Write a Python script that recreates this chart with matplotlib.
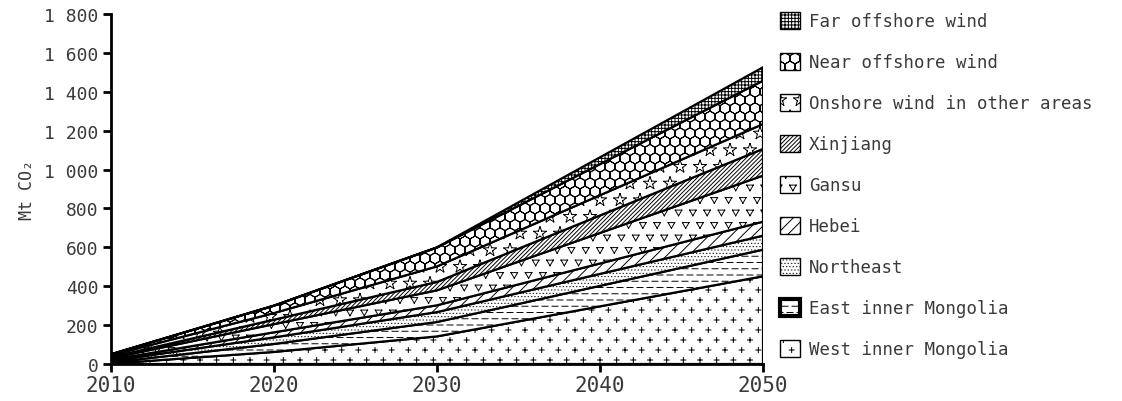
import warnings
warnings.filterwarnings('ignore')
import numpy as np
import matplotlib
matplotlib.use('Agg')
import matplotlib.pyplot as plt
from matplotlib import hatch as mhatch
from matplotlib.path import Path
from matplotlib.patches import Patch

# ---------------- data ----------------
years = [2010, 2020, 2030, 2050]
west_inner_mongolia = [2, 62, 142, 451]
east_inner_mongolia = [6, 41, 74, 137]
northeast = [8, 34, 51, 72]
hebei = [6, 26, 35, 72]
gansu = [8, 42, 77, 237]
xinjiang = [5, 23, 43, 137]
onshore_other = [10, 34, 80, 128]
near_offshore = [5, 38, 97, 223]
far_offshore = [0, 0, 1, 69]

series_labels = ["West inner Mongolia", "East inner Mongolia", "Northeast", "Hebei",
                 "Gansu", "Xinjiang", "Onshore wind in other areas",
                 "Near offshore wind", "Far offshore wind"]
x_ticks = [2010, 2020, 2030, 2040, 2050]
y_ticks = [0, 200, 400, 600, 800, 1000, 1200, 1400, 1600, 1800]
y_tick_labels = ["0", "200", "400", "600", "800", "1 000", "1 200", "1 400", "1 600", "1 800"]
y_label = "Mt CO\u2082"

# ---------------- custom hatches ----------------
plt.rcParams['hatch.linewidth'] = 0.7
plt.rcParams['hatch.color'] = 'black'


def register_lattice_hatch(char, nx, ny, segments):
    segs = np.asarray(segments, float) / 100.0

    class LatticeHatch(mhatch.HatchPatternBase):
        def __init__(self, hatch, density):
            count = hatch.count(char) if hatch else 0
            if count == 0:
                self.num_vertices = 0
                return
            centers = []
            for r in range(ny + 1):
                y = r / ny
                if r % 2 == 0:
                    xs = np.arange(nx + 1) / nx
                else:
                    xs = (np.arange(-1, nx + 1) + 0.5) / nx
                centers += [(x, y) for x in xs]
            centers = np.array(centers)
            v = (centers[:, None, None, :] + segs[None, :, :, :]).reshape(-1, 2)
            self.verts = v
            self.num_vertices = len(v)

        def set_vertices_and_codes(self, vertices, codes):
            vertices[:] = self.verts
            codes[0::2] = Path.MOVETO
            codes[1::2] = Path.LINETO

    mhatch._hatch_types.append(LatticeHatch)


def polygon_edges(pts):
    return [(pts[i], pts[(i + 1) % len(pts)]) for i in range(len(pts))]


plus_shape = [((-2.5, 0), (2.5, 0)), ((0, -2.5), (0, 2.5))]
dash_shape = [((-3.0, 0), (3.0, 0))]
dot_shape = [((-0.2, 0), (0.2, 0))]
tri_shape = polygon_edges([(-3.3, 2.4), (3.3, 2.4), (0, -3.3)])
hex_pts = [(5.5 * np.cos(np.radians(90 + 60 * k)), 5.5 * np.sin(np.radians(90 + 60 * k)))
           for k in range(6)]
hex_shape = polygon_edges(hex_pts)
star_pts = []
for k in range(10):
    r = 6.5 if k % 2 == 0 else 2.8
    a = np.radians(90 + 36 * k)
    star_pts.append((r * np.cos(a), r * np.sin(a)))
star_shape = polygon_edges(star_pts)

register_lattice_hatch('p', 6, 10, plus_shape)
register_lattice_hatch('d', 10, 16, dash_shape)
register_lattice_hatch('n', 30, 30, dot_shape)
register_lattice_hatch('v', 7, 8, tri_shape)
register_lattice_hatch('h', 10, 12, hex_shape)
register_lattice_hatch('s', 5, 6, star_shape)

series_values = [west_inner_mongolia, east_inner_mongolia, northeast, hebei, gansu,
                 xinjiang, onshore_other, near_offshore, far_offshore]
series_hatches = ['p', 'd', 'n', '///', 'v', '////////', 's', 'h', '+++++']
legend_edge_widths = [1.0, 3.0, 1.0, 1.0, 1.0, 1.0, 1.0, 1.0, 1.0]

# ---------------- figure ----------------
fig = plt.figure(figsize=(11.22, 4.02), dpi=100)
ax = fig.add_axes([111 / 1122, 1 - 365 / 402, 652 / 1122, 350 / 402])

text_color = '#3a3a3a'
font = 'DejaVu Sans Mono'

cum = np.zeros(len(years))
for vals, h in zip(series_values, series_hatches):
    top = cum + np.array(vals, float)
    ax.fill_between(years, cum, top, facecolor='white', edgecolor='black',
                    hatch=h, linewidth=1.6, zorder=2)
    cum = top

ax.set_xlim(2010, 2050)
ax.set_ylim(0, 1800)
ax.set_xticks(x_ticks)
ax.set_xticklabels([str(v) for v in x_ticks], fontsize=15, family=font, color=text_color)
ax.set_xticks(np.arange(2010, 2051, 1), minor=True)
ax.set_yticks(y_ticks)
ax.set_yticklabels(y_tick_labels, fontsize=13, family=font, color=text_color)
ax.set_ylabel(y_label, fontsize=12, family=font, color=text_color, labelpad=6)

for side in ['top', 'right']:
    ax.spines[side].set_visible(False)
for side in ['left', 'bottom']:
    ax.spines[side].set_linewidth(2.0)
    ax.spines[side].set_zorder(3)

ax.tick_params(axis='both', which='major', direction='out', length=6, width=2, pad=3)
ax.tick_params(axis='x', which='minor', direction='in', length=3, width=1)
ax.tick_params(axis='x', which='major', pad=2)

handles = [Patch(facecolor='white', edgecolor='black', hatch=h, linewidth=lw)
           for h, lw in zip(series_hatches, legend_edge_widths)]
leg = fig.legend(handles[::-1], series_labels[::-1], loc='upper left',
                 bbox_to_anchor=(780 / 1122, 1 - 13 / 402), frameon=False,
                 prop={'family': font, 'size': 12.5},
                 handlelength=1.15, handleheight=1.1, handletextpad=0.5,
                 labelspacing=1.31, borderpad=0, borderaxespad=0)
for t in leg.get_texts():
    t.set_color(text_color)

fig.savefig('out.png', dpi=100)
